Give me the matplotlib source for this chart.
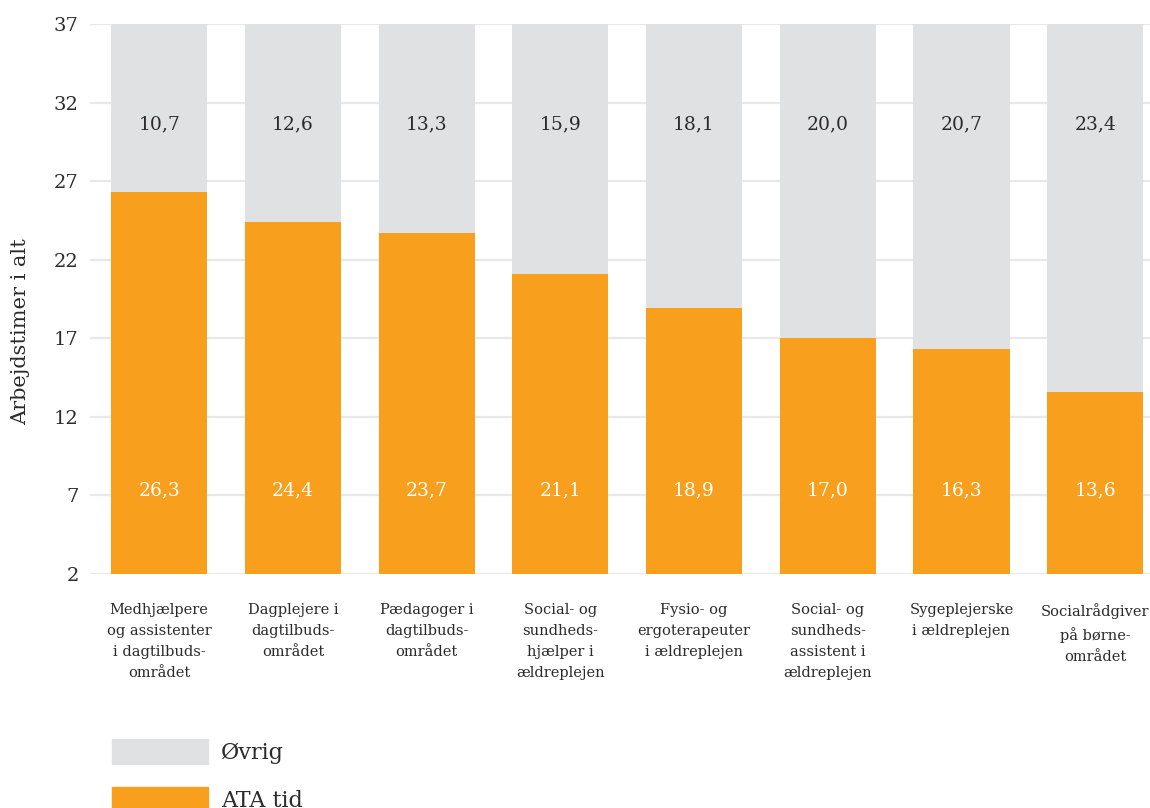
import matplotlib
matplotlib.use("Agg")
import matplotlib.pyplot as plt
from matplotlib.patches import Patch

# Data
categories = [
    "Medhjælpere\nog assistenter\ni dagtilbuds-\nområdet",
    "Dagplejere i\ndagtilbuds-\nområdet",
    "Pædagoger i\ndagtilbuds-\nområdet",
    "Social- og\nsundheds-\nhjælper i\nældreplejen",
    "Fysio- og\nergoterapeuter\ni ældreplejen",
    "Social- og\nsundheds-\nassistent i\nældreplejen",
    "Sygeplejerske\ni ældreplejen",
    "Socialrådgiver\npå børne-\nområdet",
]
ata_tid = [26.3, 24.4, 23.7, 21.1, 18.9, 17.0, 16.3, 13.6]
ovrig = [10.7, 12.6, 13.3, 15.9, 18.1, 20.0, 20.7, 23.4]
y_ticks = [2, 7, 12, 17, 22, 27, 32, 37]

orange = "#F89F1D"
grey = "#E0E1E3"
text_col = "#2b2b2b"

plt.rcParams["font.family"] = ["DejaVu Serif"]

fig = plt.figure(figsize=(11.5, 8.08), dpi=100)
ax = fig.add_axes([0.078, 0.2896, 0.922, 0.6807])

x = range(len(categories))
ax.bar(x, ata_tid, width=0.72, color=orange, zorder=2)
ax.bar(x, ovrig, width=0.72, bottom=ata_tid, color=grey, zorder=2)

# value labels
for i in x:
    ax.text(i, 7.3, f"{ata_tid[i]:.1f}".replace(".", ","), ha="center",
            va="center", color="white", fontsize=13.5, zorder=3)
    ax.text(i, 30.6, f"{ovrig[i]:.1f}".replace(".", ","), ha="center",
            va="center", color=text_col, fontsize=13.5, zorder=3)

ax.set_ylim(2, 37)
ax.set_xlim(-0.52, 7.41)
ax.set_yticks(y_ticks)
ax.set_xticks(list(x))
ax.set_xticklabels(categories, fontsize=10.5, color=text_col, linespacing=1.62,
                   va="top")
ax.tick_params(axis="both", length=0)
ax.tick_params(axis="y", labelsize=14, labelcolor=text_col, pad=8)
ax.tick_params(axis="x", pad=21)
ax.grid(axis="y", color="#e8e8e8", linewidth=1.6, zorder=0)
for s in ax.spines.values():
    s.set_visible(False)

fig.text(0.018, 0.59, "Arbejdstimer i alt", rotation=90, ha="center",
         va="center", fontsize=15, color=text_col)

handles = [Patch(color=grey, label="Øvrig"), Patch(color=orange, label="ATA tid")]
fig.legend(handles=handles, loc="upper left",
           bbox_to_anchor=(0.0877, 1 - 728 / 808),
           bbox_transform=fig.transFigure, frameon=False, fontsize=16,
           handlelength=4.3, handleheight=1.35, labelspacing=1.05,
           handletextpad=0.6, borderpad=0, labelcolor=text_col)

fig.savefig("out.png", dpi=100)
